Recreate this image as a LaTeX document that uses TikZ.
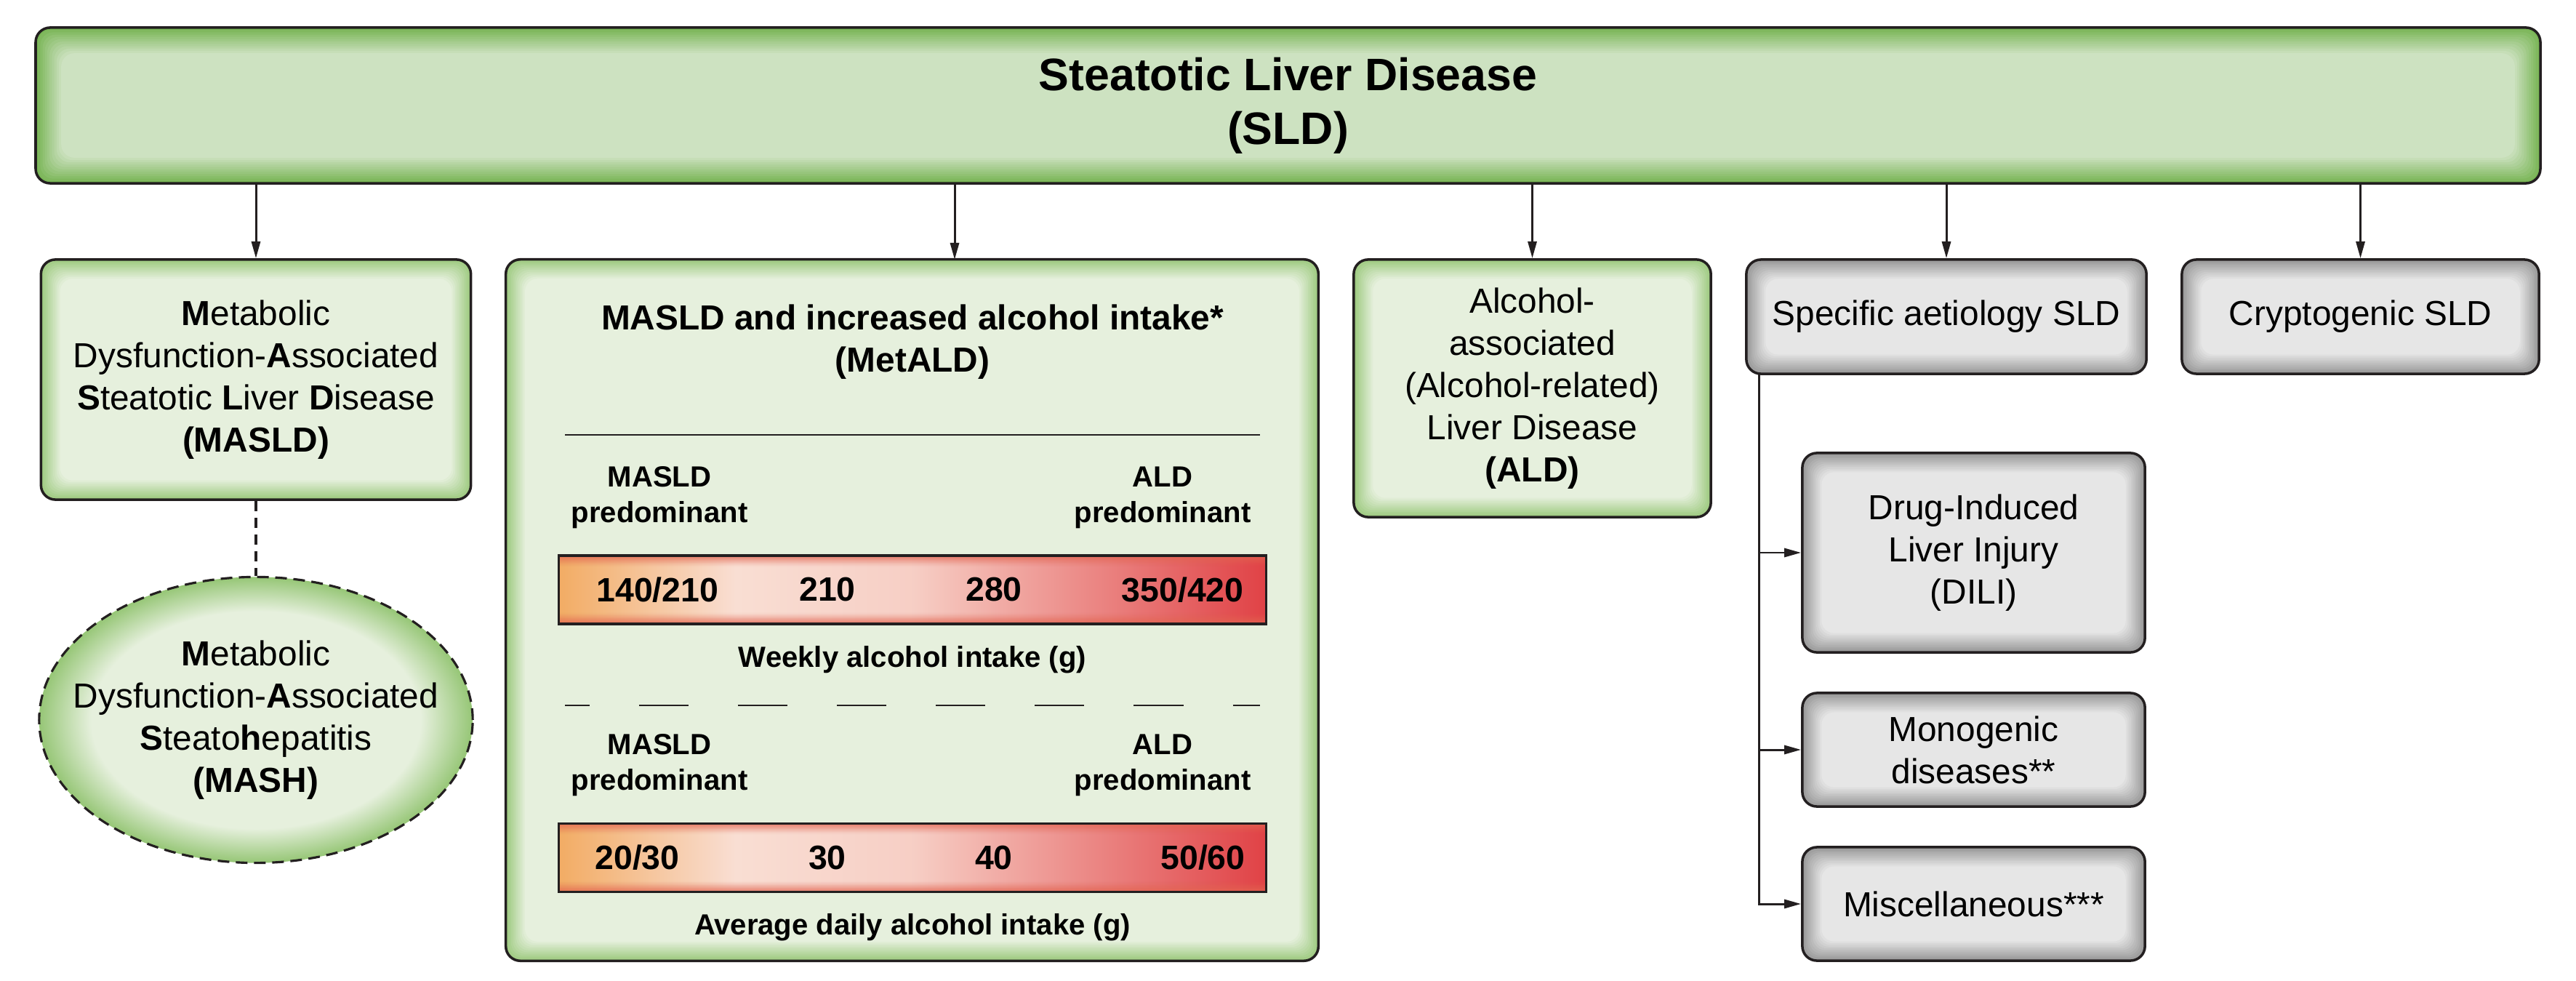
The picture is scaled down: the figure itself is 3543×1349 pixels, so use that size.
\documentclass[tikz,border=0pt]{standalone}
\usepackage{fontspec}
\setmainfont{Liberation Sans}
\usepackage{tikz}
\usepackage{xcolor}
\definecolor{sldgreen}{RGB}{112, 176, 74}
\definecolor{sldfill}{RGB}{205, 226, 193}
\definecolor{boxgreen}{RGB}{150, 198, 118}
\definecolor{boxfill}{RGB}{230, 240, 221}
\definecolor{boxgray}{RGB}{145, 145, 145}
\definecolor{grayfill}{RGB}{230, 230, 230}
\definecolor{linedark}{RGB}{35, 31, 32}
\definecolor{barorange}{RGB}{242, 172, 100}
\definecolor{barlight}{RGB}{249, 222, 211}
\definecolor{barred}{RGB}{224, 66, 70}
\definecolor{barrim}{RGB}{226, 100, 80}
\usetikzlibrary{arrows.meta, calc, shapes.geometric}
\pgfdeclareradialshading{ellglow}{\pgfpointorigin}{color(0bp)=(boxfill); color(19bp)=(boxfill); color(25bp)=(boxgreen); color(50bp)=(boxgreen)}

\begin{document}
\begin{tikzpicture}[x=0.01cm, y=-0.01cm,
    txt/.style={font=\fontsize{13.6pt}{16.5pt}\selectfont, align=center, text=black},
    box/.style={txt, draw=linedark, line width=1pt, rounded corners=0.2cm, inner sep=2pt},
    glow/.style n args={3}{fill=#2, path picture={
        \foreach \k in {0,...,12}{
            \pgfmathtruncatemacro{\mixval}{100*(1-\k/12)}
            \draw[draw=#1!\mixval!#2, line width=#3*2, rounded corners=0.15cm]
                ($(path picture bounding box.south west)+(\k*#3,\k*#3)$) rectangle
                ($(path picture bounding box.north east)-(\k*#3,\k*#3)$);
        }}},
    greenbox/.style={box, glow={boxgreen}{boxfill}{0.024cm}},
    graybox/.style={box, glow={boxgray}{grayfill}{0.024cm}},
    subbox/.style={graybox, minimum width=4.71cm},
    arr/.style={-{Triangle[length=0.23cm, width=0.12cm]}, line width=0.85pt, draw=linedark},
    mashlink/.style={draw=linedark, line width=0.9pt, dash pattern=on 0.14cm off 0.09cm},
    intakebar/.style={draw=linedark, line width=1pt, minimum width=9.72cm, minimum height=0.94cm, inner sep=0pt,
        path picture={
            \path (path picture bounding box.south west) coordinate (bsw)
                  (path picture bounding box.north east) coordinate (bne);
            \coordinate (bq) at ($(bsw)!0.25!(bsw -| bne)$);
            \coordinate (bh) at ($(bsw)!0.5!(bsw -| bne)$);
            \shade[left color=barorange, right color=barlight] (bsw) rectangle (bq |- bne);
            \shade[left color=barlight, right color=barlight!90!barred] (bq) rectangle (bh |- bne);
            \shade[left color=barlight!90!barred, right color=barred] (bh) rectangle (bne);
            \foreach \k in {0,...,8}{
                \pgfmathsetmacro{\rimop}{0.55*(1-\k/8)^1.5}
                \draw[draw=barrim, draw opacity=\rimop, line width=0.04cm]
                    ($(bsw)+(-0.3cm,\k*0.02cm)$) -- ($(bsw -| bne)+(0.3cm,\k*0.02cm)$)
                    ($(bne)+(0.3cm,-\k*0.02cm)$) -- ($(bne -| bsw)+(-0.3cm,-\k*0.02cm)$);
            }
        }},
    barnum/.style={font=\bfseries\fontsize{13.2pt}{15pt}\selectfont},
    axislabel/.style={font=\bfseries\fontsize{11.4pt}{14pt}\selectfont, align=center}
]
\useasboundingbox (0,0) rectangle (3543,1349);

% Titolo principale
\node[box, glow={sldgreen}{sldfill}{0.032cm}, minimum width=34.43cm, minimum height=2.14cm,
      font=\bfseries\fontsize{17.8pt}{21pt}\selectfont] (sld) at (1771.5,145) {Steatotic Liver Disease\\(SLD)};

% Seconda fila
\node[greenbox, minimum width=5.91cm, minimum height=3.30cm] (masld) at (352,522)
    {\textbf{M}etabolic\\Dysfunction-\textbf{A}ssociated\\\textbf{S}teatotic \textbf{L}iver \textbf{D}isease\\\textbf{(MASLD)}};
\node[greenbox, minimum width=11.17cm, minimum height=9.64cm] (metald) at (1254.5,839) {};
\node[greenbox, minimum width=4.91cm, minimum height=3.54cm] (ald) at (2107.5,534)
    {Alcohol-\\associated\\(Alcohol-related)\\Liver Disease\\\textbf{(ALD)}};
\node[graybox, minimum width=5.50cm, minimum height=1.57cm] (spec) at (2677,435.5) {Specific aetiology SLD};
\node[graybox, minimum width=4.91cm, minimum height=1.57cm] (crypt) at (3246.5,435.5) {Cryptogenic SLD};

% MASH
\node[ellipse, draw=linedark, line width=0.9pt, dash pattern=on 0.16cm off 0.09cm, shade, shading=ellglow,
      minimum width=5.96cm, minimum height=3.93cm, inner sep=0pt] (mash) at (352,990) {};
\node[txt] at (mash.center)
    {\textbf{M}etabolic\\Dysfunction-\textbf{A}ssociated\\\textbf{S}teato\textbf{h}epatitis\\\textbf{(MASH)}};

% Eziologie specifiche
\node[subbox, minimum height=2.74cm] (dili) at (2714.5,760) {Drug-Induced\\Liver Injury\\(DILI)};
\node[subbox, minimum height=1.56cm] (mono) at (2714.5,1031) {Monogenic\\diseases**};
\node[subbox, minimum height=1.56cm] (misc) at (2714.5,1243) {Miscellaneous***};

% Contenuto MetALD
\node[txt, font=\bfseries\fontsize{13.6pt}{16.5pt}\selectfont] (mettitle) at (1255,470)
    {MASLD and increased alcohol intake*\\(MetALD)};
\draw[line width=0.75pt, draw=linedark] (777,598) -- (1733,598);
\node[axislabel] (maslda) at (907,684) {MASLD\\predominant};
\node[axislabel] (alda) at (1599,684) {ALD\\predominant};
\node[intakebar] (weekbar) at (1255,811) {};
\node[barnum, anchor=west] at ([xshift=0.41cm]weekbar.west) {140/210};
\node[barnum] at ($(weekbar.west)+(371,0)$) {210};
\node[barnum] at ($(weekbar.west)+(600,0)$) {280};
\node[barnum, anchor=east] at ([xshift=-0.2cm]weekbar.east) {350/420};
\node[axislabel] (weeklab) at (1255,907) {Weekly alcohol intake (g)};
\draw[line width=0.75pt, draw=linedark, dash pattern=on 0.68cm off 0.68cm, dash phase=0.34cm] (777,970) -- (1733,970);
\node[axislabel] (masldb) at (907,1052) {MASLD\\predominant};
\node[axislabel] (aldb) at (1599,1052) {ALD\\predominant};
\node[intakebar] (daybar) at (1255,1179.5) {};
\node[barnum, anchor=west] at ([xshift=0.39cm]daybar.west) {20/30};
\node[barnum] at ($(daybar.west)+(371,0)$) {30};
\node[barnum] at ($(daybar.west)+(600,0)$) {40};
\node[barnum, anchor=east] at ([xshift=-0.18cm]daybar.east) {50/60};
\node[axislabel] (daylab) at (1255,1275) {Average daily alcohol intake (g)};

% Frecce
\coordinate (metin) at (1313,357);
\draw[arr] (sld.south -| masld.north) -- (masld.north);
\draw[arr] (sld.south -| metin) -- (metin);
\draw[arr] (sld.south -| ald.north) -- (ald.north);
\draw[arr] (sld.south -| spec.north) -- (spec.north);
\draw[arr] (sld.south -| crypt.north) -- (crypt.north);
\draw[mashlink] (masld.south) -- (mash.north);

\coordinate (trunk) at (2419,514);
\draw[arr] (trunk) |- (misc.west);
\draw[arr] (trunk |- dili.west) -- (dili.west);
\draw[arr] (trunk |- mono.west) -- (mono.west);

\end{tikzpicture}
\end{document}
